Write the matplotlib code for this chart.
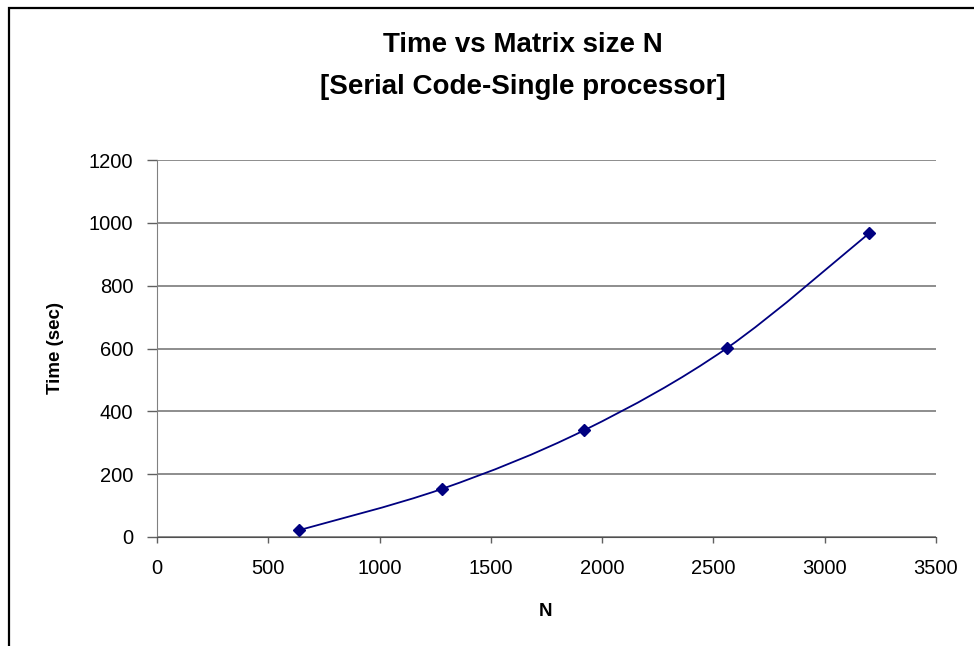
import numpy as np
import matplotlib
matplotlib.use('Agg')
import matplotlib.pyplot as plt
from matplotlib.path import Path
from matplotlib.patches import PathPatch, Rectangle

plt.rcParams['font.family'] = ['Liberation Sans', 'DejaVu Sans']

# data
n_values = [640, 1280, 1920, 2560, 3200]
time_sec = [22, 153, 340, 601, 967]
y_ticks = [0, 200, 400, 600, 800, 1000, 1200]
x_ticks = [0, 500, 1000, 1500, 2000, 2500, 3000, 3500]

W, H = 974, 646
fig = plt.figure(figsize=(W / 100, H / 100), dpi=100)
ax = fig.add_axes([157 / W, 1 - 537 / H, (936 - 157) / W, (537 - 160) / H])

# Excel-style smoothed line: cubic Bezier segments (Catmull-Rom, tension 1/6)
pts = np.column_stack([n_values, time_sec]).astype(float)
verts = [tuple(pts[0])]
codes = [Path.MOVETO]
for i in range(len(pts) - 1):
    p0 = pts[i - 1] if i > 0 else pts[i]
    p1, p2 = pts[i], pts[i + 1]
    p3 = pts[i + 2] if i + 2 < len(pts) else pts[i + 1]
    c1 = p1 + (p2 - p0) / 6
    c2 = p2 - (p3 - p1) / 6
    verts += [tuple(c1), tuple(c2), tuple(p2)]
    codes += [Path.CURVE4] * 3
ax.add_patch(PathPatch(Path(verts, codes), fill=False, edgecolor='#000080', lw=1.3, zorder=3))
ax.plot(n_values, time_sec, ls='none', marker='D', ms=6, color='#000080', zorder=4)

ax.set_xlim(0, 3500)
ax.set_ylim(0, 1200)
ax.set_xticks(x_ticks)
ax.set_yticks(y_ticks)
ax.yaxis.grid(True, color='#7a7a7a', lw=1.2)
ax.set_axisbelow(True)
for s in ['top', 'right']:
    ax.spines[s].set_visible(False)
ax.spines['left'].set_color('#808080')
ax.spines['bottom'].set_color('#505050')
ax.tick_params(axis='y', length=7, width=1, color='#606060', pad=10, labelsize=14.5)
ax.tick_params(axis='x', length=4.5, width=1, color='#606060', pad=11, labelsize=14.5)

fig.text(523 / W, 1 - 45 / H, 'Time vs Matrix size N', ha='center', va='center',
         fontsize=20, fontweight='bold')
fig.text(523 / W, 1 - 87 / H, '[Serial Code-Single processor]', ha='center', va='center',
         fontsize=20, fontweight='bold')
fig.text(546 / W, 1 - 612 / H, 'N', ha='center', va='center', fontsize=13.5, fontweight='bold')
fig.text(55 / W, 1 - 348 / H, 'Time (sec)', ha='center', va='center', rotation=90,
         fontsize=13.5, fontweight='bold')

# chart-area frame (right and bottom edges fall outside the image)
fig.patches.append(Rectangle((9 / W, -0.05), 1.2, 1 - 8 / H + 0.05, transform=fig.transFigure,
                             fill=False, edgecolor='black', lw=1.6))

fig.savefig('out.png', dpi=100)
